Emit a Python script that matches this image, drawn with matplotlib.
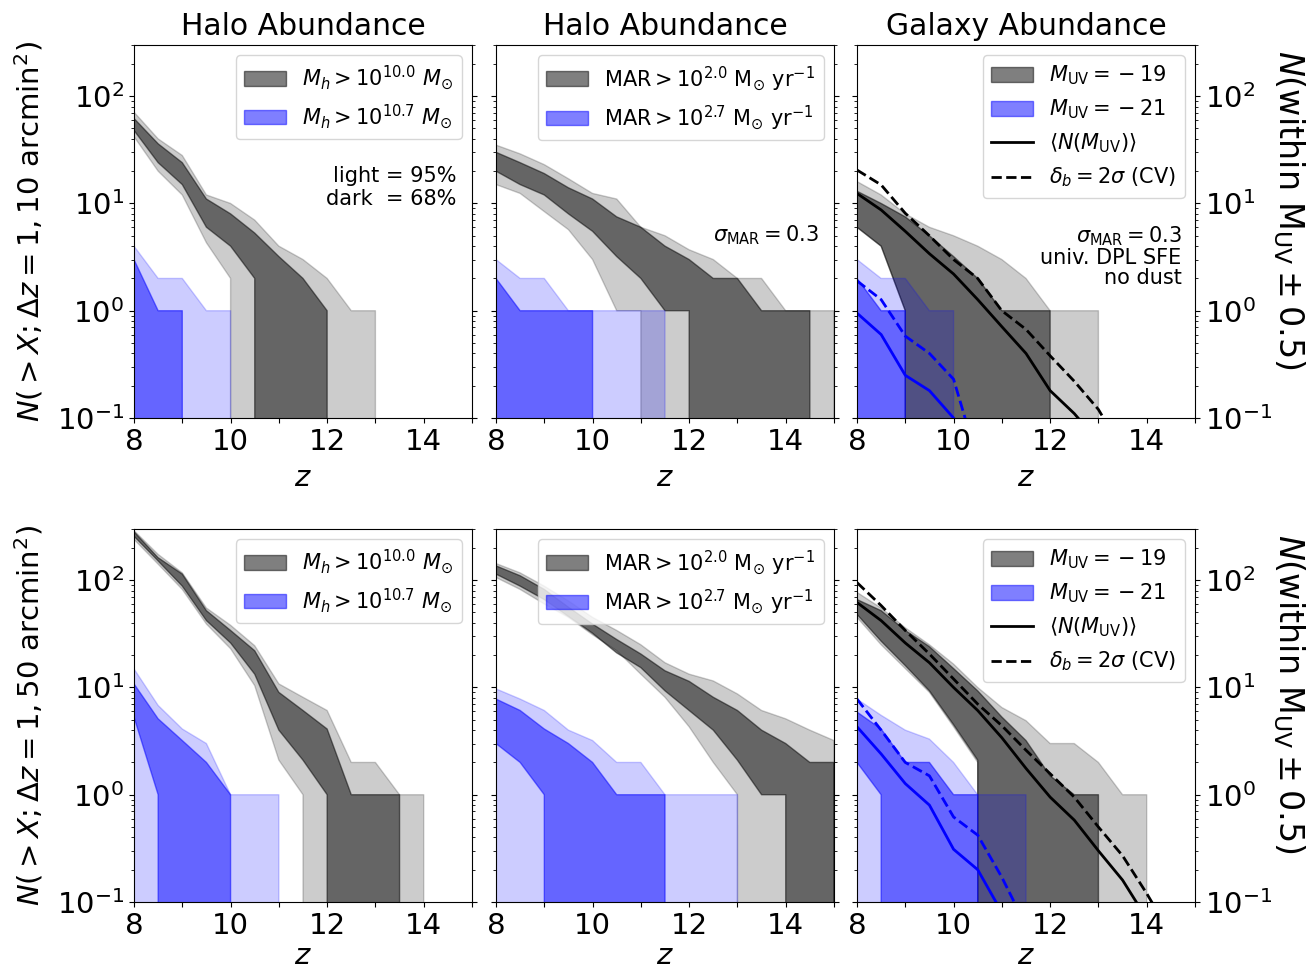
import numpy as np
import matplotlib
matplotlib.use('Agg')
import matplotlib.pyplot as plt

z = np.arange(8.0, 15.01, 0.5)

# ---------------- top row: 10 arcmin^2 ----------------
# Halo mass panel
p1_g95_hi = [71, 40, 28, 12, 10, 7, 4, 3, 2, 1, 1, 0, 0, 0, 0]
p1_g95_lo = [42, 20, 12, 4.3, 2, 0, 0, 0, 0, 0, 0, 0, 0, 0, 0]
p1_g68_hi = [62, 36, 24, 11, 8, 5.3, 3.2, 2, 1, 0, 0, 0, 0, 0, 0]
p1_g68_lo = [48, 24, 15, 6, 4, 2, 0, 0, 0, 0, 0, 0, 0, 0, 0]
p1_b95_hi = [4, 2, 2, 1, 1, 0, 0, 0, 0, 0, 0, 0, 0, 0, 0]
p1_b95_lo = [0] * 15
p1_b68_hi = [3, 1, 1, 0, 0, 0, 0, 0, 0, 0, 0, 0, 0, 0, 0]
p1_b68_lo = [0] * 15

# MAR panel
p2_g95_hi = [35, 29, 23, 17, 12.4, 11, 6, 5, 3.7, 3, 2, 2, 1, 1, 1]
p2_g95_lo = [15, 12.4, 8.4, 5.7, 3, 1, 1, 0, 0, 0, 0, 0, 0, 0, 0]
p2_g68_hi = [30, 24, 19, 14, 11, 7.5, 6, 4, 3, 2, 2, 1, 1, 1, 0]
p2_g68_lo = [20, 15, 12, 8, 5.5, 3.2, 2, 1, 1, 0, 0, 0, 0, 0, 0]
p2_b95_hi = [3, 2, 2, 1, 1, 1, 1, 1, 0, 0, 0, 0, 0, 0, 0]
p2_b95_lo = [0] * 15
p2_b68_hi = [2, 1, 1, 1, 1, 0, 0, 0, 0, 0, 0, 0, 0, 0, 0]
p2_b68_lo = [0] * 15

# Galaxy panel
p3_g95_hi = [16, 12, 8, 6, 5, 4, 3, 2, 1, 1, 1, 0, 0, 0, 0]
p3_g95_lo = [6, 4, 1, 0, 0, 0, 0, 0, 0, 0, 0, 0, 0, 0, 0]
p3_g68_hi = [13, 10, 7.5, 5, 3.2, 2, 1, 1, 1, 0, 0, 0, 0, 0, 0]
p3_g68_lo = [6, 4, 1, 0, 0, 0, 0, 0, 0, 0, 0, 0, 0, 0, 0]
p3_b95_hi = [3, 2, 2, 1, 1, 0, 0, 0, 0, 0, 0, 0, 0, 0, 0]
p3_b95_lo = [0] * 15
p3_b68_hi = [2, 1, 1, 0, 0, 0, 0, 0, 0, 0, 0, 0, 0, 0, 0]
p3_b68_lo = [0] * 15
p3_mean19 = [12.4, 8.7, 5.5, 3.4, 2.2, 1.27, 0.71, 0.40, 0.18, 0.11, 0.06, 0.03, 0.015, 0.008, 0.004]
p3_cv19 = [20.5, 14.9, 8.1, 5.0, 3.0, 2.0, 1.0, 0.67, 0.38, 0.22, 0.12, 0.05, 0.02, 0.01, 0.005]
p3_mean21 = [0.95, 0.6, 0.25, 0.18, 0.1, 0.05, 0.02, 0.01, 0.005, 0.002, 0.001, 0.001, 0.001, 0.001, 0.001]
p3_cv21 = [1.9, 1.27, 0.58, 0.40, 0.23, 0.04, 0.01, 0.005, 0.002, 0.001, 0.001, 0.001, 0.001, 0.001, 0.001]

# ---------------- bottom row: 50 arcmin^2 ----------------
p4_g95_hi = [290, 174, 117, 55, 38, 24.5, 10.8, 8.1, 6.1, 2, 2, 1, 1, 0, 0]
p4_g95_lo = [240, 141, 82, 39, 23, 10.4, 2.1, 1, 0, 0, 0, 0, 0, 0, 0]
p4_g68_hi = [283, 162, 114, 52, 34, 22, 9, 6.1, 4.1, 1, 1, 1, 0, 0, 0]
p4_g68_lo = [257, 151, 88, 42, 26, 13.3, 4, 2.1, 1, 0, 0, 0, 0, 0, 0]
p4_b95_hi = [14.9, 6.8, 4.1, 3, 1, 1, 1, 0, 0, 0, 0, 0, 0, 0, 0]
p4_b95_lo = [0] * 15
p4_b68_hi = [10.8, 5.1, 3.2, 2, 1, 0, 0, 0, 0, 0, 0, 0, 0, 0, 0]
p4_b68_lo = [5.3, 1, 0, 0, 0, 0, 0, 0, 0, 0, 0, 0, 0, 0, 0]

p5_g95_hi = [143, 117, 88, 64, 45, 34, 25, 17, 13.3, 11.5, 8.7, 6.1, 5.1, 4, 3.2]
p5_g95_lo = [106, 82, 60, 45, 31, 22, 13.3, 8.1, 4.3, 2, 1, 0, 0, 0, 0]
p5_g68_hi = [136, 110, 82, 56, 39, 28, 20.5, 14.3, 11.4, 8.1, 6.1, 4, 3, 2, 2]
p5_g68_lo = [114, 88, 66, 46, 32, 21, 15.3, 9.3, 6.1, 4, 2.1, 1, 1, 0, 0]
p5_b95_hi = [9.7, 7.8, 6.1, 4, 3.2, 2, 2, 1, 1, 1, 1, 0, 0, 0, 0]
p5_b95_lo = [0] * 15
p5_b68_hi = [7.8, 6.1, 4.1, 3, 2, 1, 1, 1, 0, 0, 0, 0, 0, 0, 0]
p5_b68_lo = [3, 2, 1, 0, 0, 0, 0, 0, 0, 0, 0, 0, 0, 0, 0]

p6_g95_hi = [77, 55, 36, 25, 16.5, 10, 6.5, 4.9, 3, 3, 2, 1, 1, 0, 0]
p6_g95_lo = [45, 25, 15, 9, 4.3, 2, 0, 0, 0, 0, 0, 0, 0, 0, 0]
p6_g68_hi = [66, 52, 34, 24, 15, 9.3, 5.3, 3.2, 1.5, 1, 1, 0, 0, 0, 0]
p6_g68_lo = [48, 27, 16, 9.3, 4.5, 2.1, 0, 0, 0, 0, 0, 0, 0, 0, 0]
p6_b95_hi = [7.8, 5.5, 4, 3.3, 2, 1, 1, 1, 0, 0, 0, 0, 0, 0, 0]
p6_b95_lo = [0] * 15
p6_b68_hi = [5.9, 4.1, 2, 2, 1, 1, 0, 0, 0, 0, 0, 0, 0, 0, 0]
p6_b68_lo = [2, 1, 0, 0, 0, 0, 0, 0, 0, 0, 0, 0, 0, 0, 0]
p6_mean19 = [62, 42, 26, 17, 10, 6.1, 3.4, 1.76, 0.95, 0.58, 0.30, 0.16, 0.07, 0.03, 0.01]
p6_cv19 = [95, 58, 34, 20.5, 12, 7, 4.4, 2.6, 1.57, 0.95, 0.5, 0.27, 0.12, 0.05, 0.02]
p6_mean21 = [4.3, 2.4, 1.27, 0.8, 0.31, 0.2, 0.08, 0.03, 0.01, 0.005, 0.002, 0.001, 0.001, 0.001, 0.001]
p6_cv21 = [7.8, 4, 2, 1.5, 0.62, 0.42, 0.17, 0.06, 0.02, 0.005, 0.002, 0.001, 0.001, 0.001, 0.001]

titles = ['Halo Abundance', 'Halo Abundance', 'Galaxy Abundance']
mh_labels = [r'$M_h > 10^{10.0}\ M_{\odot}$', r'$M_h > 10^{10.7}\ M_{\odot}$']
mar_labels = [r'$\mathrm{MAR} > 10^{2.0}\ \mathrm{M_{\odot}\ yr^{-1}}$',
              r'$\mathrm{MAR} > 10^{2.7}\ \mathrm{M_{\odot}\ yr^{-1}}$']
uv_labels = [r'$M_{\rm UV} = {}-19$', r'$M_{\rm UV} = {}-21$',
             r'$\langle N(M_{\rm UV}) \rangle$', r'$\delta_b = 2\sigma$ (CV)']
ylabel_left = [r'$N(>X;\Delta z=1, 10\ \mathrm{arcmin}^2)$',
               r'$N(>X;\Delta z=1, 50\ \mathrm{arcmin}^2)$']
ylabel_right = r'$N(\mathrm{within\ M_{UV}} \pm 0.5)$'
xticks = [8, 9, 10, 11, 12, 13, 14, 15]
xticklabels = ['8', '', '10', '', '12', '', '14', '']

panels = [
    [(p1_g95_lo, p1_g95_hi, p1_g68_lo, p1_g68_hi, p1_b95_lo, p1_b95_hi, p1_b68_lo, p1_b68_hi, None),
     (p2_g95_lo, p2_g95_hi, p2_g68_lo, p2_g68_hi, p2_b95_lo, p2_b95_hi, p2_b68_lo, p2_b68_hi, None),
     (p3_g95_lo, p3_g95_hi, p3_g68_lo, p3_g68_hi, p3_b95_lo, p3_b95_hi, p3_b68_lo, p3_b68_hi,
      (p3_mean19, p3_cv19, p3_mean21, p3_cv21))],
    [(p4_g95_lo, p4_g95_hi, p4_g68_lo, p4_g68_hi, p4_b95_lo, p4_b95_hi, p4_b68_lo, p4_b68_hi, None),
     (p5_g95_lo, p5_g95_hi, p5_g68_lo, p5_g68_hi, p5_b95_lo, p5_b95_hi, p5_b68_lo, p5_b68_hi, None),
     (p6_g95_lo, p6_g95_hi, p6_g68_lo, p6_g68_hi, p6_b95_lo, p6_b95_hi, p6_b68_lo, p6_b68_hi,
      (p6_mean19, p6_cv19, p6_mean21, p6_cv21))],
]

W, H = 1308, 973
fig = plt.figure(figsize=(W / 100, H / 100), dpi=100)
lefts = [134, 496, 857]
tops = [45, 529]
aw, ah = 338, 373

TICK_FS = 21
for r in range(2):
    for c in range(3):
        ax = fig.add_axes([lefts[c] / W, 1 - (tops[r] + ah) / H, aw / W, ah / H])
        g95l, g95h, g68l, g68h, b95l, b95h, b68l, b68h, lines = panels[r][c]
        ax.fill_between(z, g95l, g95h, color='k', alpha=0.2)
        hg = ax.fill_between(z, g68l, g68h, color='k', alpha=0.5)
        ax.fill_between(z, b95l, b95h, color='b', alpha=0.2)
        hb = ax.fill_between(z, b68l, b68h, color='b', alpha=0.5)
        ax.set_yscale('log')
        ax.set_ylim(0.1, 300)
        ax.set_xlim(8, 15)
        ax.set_xticks(xticks)
        ax.set_xticklabels(xticklabels)
        ax.tick_params(axis='both', which='major', labelsize=TICK_FS)
        ax.tick_params(axis='y', which='both', left=True, right=True)
        ax.set_xlabel(r'$z$', fontsize=21, labelpad=6 if r == 0 else 2)
        if r == 0:
            ax.set_title(titles[c], fontsize=21.5, pad=7)
        if c == 0:
            ax.set_ylabel(ylabel_left[r], fontsize=21, labelpad=8)
            ax.legend([hg, hb], mh_labels, loc='upper right', fontsize=15)
        elif c == 1:
            ax.tick_params(axis='y', which='both', labelleft=False)
            ax.legend([hg, hb], mar_labels, loc='upper right', fontsize=15)
        else:
            ax.tick_params(axis='y', which='both', labelleft=False, labelright=True)
            m19, cv19, m21, cv21 = lines
            l1, = ax.plot(z, m19, 'k-', lw=2)
            l2, = ax.plot(z, cv19, 'k--', lw=2)
            ax.plot(z, m21, 'b-', lw=2)
            ax.plot(z, cv21, 'b--', lw=2)
            ax.legend([hg, hb, l1, l2], uv_labels, loc='upper right', fontsize=15)
            fig.text(1289 / W, 1 - (tops[r] + 165) / H, ylabel_right, fontsize=24,
                     rotation=270, ha='center', va='center')
        if r == 0 and c == 0:
            ax.text(0.955, 0.675, 'light = 95%\ndark  = 68%', transform=ax.transAxes,
                    ha='right', va='top', fontsize=15)
        if r == 0 and c == 1:
            ax.text(0.955, 0.49, r'$\sigma_{\rm MAR} = 0.3$', transform=ax.transAxes,
                    ha='right', va='center', fontsize=15)
        if r == 0 and c == 2:
            ax.text(0.96, 0.52, '$\\sigma_{\\rm MAR} = 0.3$\nuniv. DPL SFE\nno dust',
                    transform=ax.transAxes, ha='right', va='top', fontsize=15,
                    linespacing=1.0, multialignment='right')

fig.savefig('out.png', dpi=100)
